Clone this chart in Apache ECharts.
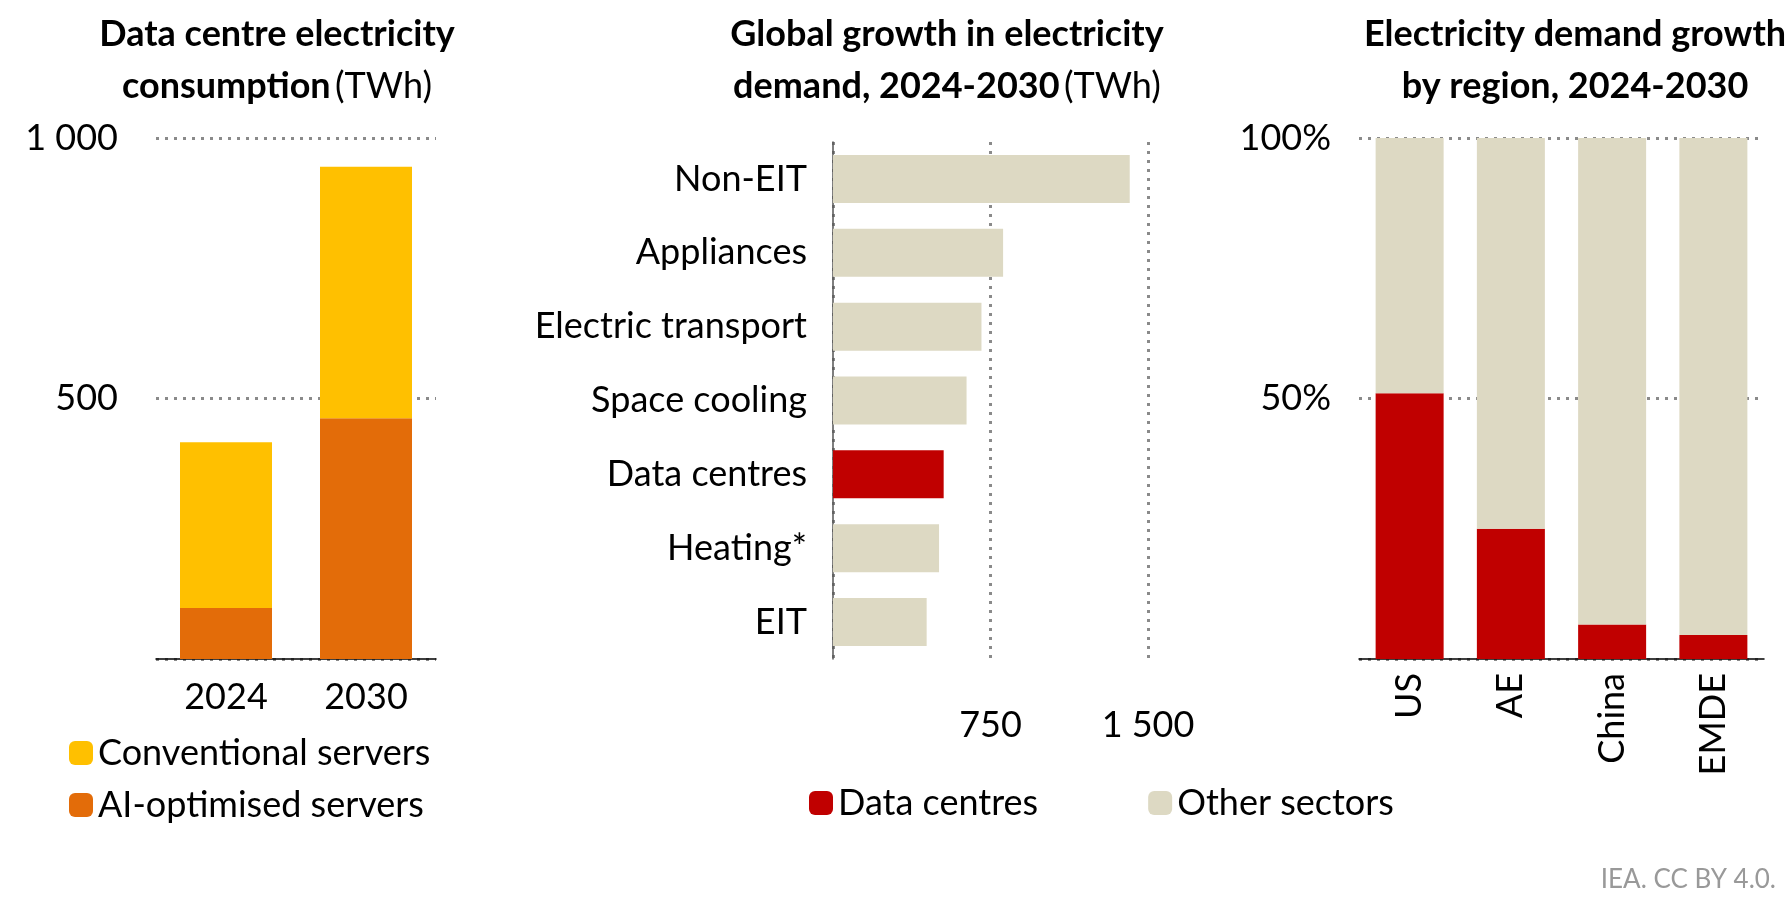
<!DOCTYPE html>
<html>
<head>
<meta charset="utf-8">
<script src="https://cdn.jsdelivr.net/npm/echarts@6/dist/echarts.min.js"></script>
<style>html,body{margin:0;padding:0;background:#fff}#main{width:1791px;height:910px}</style>
</head>
<body>
<div id="main"></div>
<script>
// left panel: data centre consumption (TWh)
var years = ['2024', '2030'];
var aiServers = [98, 462];
var convServers = [318, 483];
// middle panel: growth 2024-2030 (TWh)
var sectors = ['EIT', 'Heating*', 'Data centres', 'Space cooling', 'Electric transport', 'Appliances', 'Non-EIT'];
var sectorGrowth = [446, 505, 527, 636, 707, 810, 1413];
// right panel: share of demand growth (%)
var regions = ['US', 'AE', 'China', 'EMDE'];
var dcShare = [51, 25, 6.6, 4.6];

var FONT = 'Lato';
var FS = 36;
var RED = '#c00000', BEIGE = '#ddd9c3', ORANGE = '#e36c09', YELLOW = '#ffc000';
function fmt(v){ return String(v).replace(/\B(?=(\d{3})+(?!\d))/g, ' '); }
var dotted = {show: true, lineStyle: {color: '#8a8a8a', type: [3, 6], width: 3}};
var rich = {
    b: {fontFamily: FONT, fontWeight: 'bold', fontSize: 36, color: '#000', lineHeight: 52},
    n: {fontFamily: FONT, fontWeight: 'normal', fontSize: 36, color: '#000', lineHeight: 52}
};

var chart = echarts.init(document.getElementById('main'));
chart.setOption({
    textStyle: {fontFamily: FONT},
    title: [
        {text: '{b|Data centre electricity}\n{b|consumption} {n|(TWh)}', left: 272, top: 3, textAlign: 'center', textStyle: {rich: rich}},
        {text: '{b|Global growth in electricity}\n{b|demand, 2024-2030} {n|(TWh)}', left: 942, top: 3, textAlign: 'center', textStyle: {rich: rich}},
        {text: '{b|Electricity demand growth}\n{b|by region, 2024-2030}', left: 1570, top: 3, textAlign: 'center', textStyle: {rich: rich}},
        {text: 'IEA. CC BY 4.0.', right: 10, top: 862, textStyle: {fontFamily: FONT, fontSize: 26, color: '#999', fontWeight: 'normal'}}
    ],
    legend: [
        {data: ['Conventional servers', 'AI-optimised servers'], orient: 'vertical', left: 64, top: 730, itemWidth: 24, itemHeight: 24, itemGap: 16,
         textStyle: {fontFamily: FONT, fontSize: FS, color: '#000'}},
        {data: ['Data centres', 'Other sectors'], left: 804, top: 780, itemWidth: 24, itemHeight: 24, itemGap: 110,
         textStyle: {fontFamily: FONT, fontSize: FS, color: '#000'}}
    ],
    grid: [
        {left: 156, width: 280, top: 138, height: 521},
        {left: 833, width: 315, top: 142, height: 517},
        {left: 1359, width: 405, top: 138, height: 521}
    ],
    xAxis: [
        {gridIndex: 0, type: 'category', data: years, axisTick: {show: false},
         axisLine: {lineStyle: {color: '#000', width: 1.5}}, axisLabel: {fontSize: FS, color: '#000', margin: 20, fontFamily: FONT}},
        {gridIndex: 1, type: 'value', min: 0, max: 1500, interval: 750, splitLine: dotted,
         axisLabel: {fontSize: FS, color: '#000', margin: 48, fontFamily: FONT, formatter: function(v){ return v === 0 ? '' : fmt(v); }}},
        {gridIndex: 2, type: 'category', data: regions, axisTick: {show: false},
         axisLine: {lineStyle: {color: '#000', width: 1.5}}, axisLabel: {fontSize: FS, color: '#000', rotate: 90, margin: 14, fontFamily: FONT}}
    ],
    yAxis: [
        {gridIndex: 0, type: 'value', min: 0, max: 1000, interval: 500, splitLine: dotted, axisLine: {show: false},
         axisLabel: {fontSize: FS, color: '#000', margin: 38, fontFamily: FONT, formatter: function(v){ return v === 0 ? '' : fmt(v); }}},
        {gridIndex: 1, type: 'category', data: sectors, axisTick: {show: false},
         axisLine: {show: true, lineStyle: {color: '#555', width: 1.5}}, axisLabel: {fontSize: FS, color: '#000', margin: 26, fontFamily: FONT}},
        {gridIndex: 2, type: 'value', min: 0, max: 100, interval: 50, splitLine: dotted, axisLine: {show: false},
         axisLabel: {fontSize: FS, color: '#000', margin: 28, fontFamily: FONT, formatter: function(v){ return v === 0 ? '' : v + '%'; }}}
    ],
    series: [
        {name: 'AI-optimised servers', type: 'bar', stack: 'dc', xAxisIndex: 0, yAxisIndex: 0, data: aiServers, barWidth: 92, itemStyle: {color: ORANGE}},
        {name: 'Conventional servers', type: 'bar', stack: 'dc', xAxisIndex: 0, yAxisIndex: 0, data: convServers, barWidth: 92, itemStyle: {color: YELLOW}},
        {name: 'Other sectors', type: 'bar', xAxisIndex: 1, yAxisIndex: 1, barWidth: 48,
         data: sectorGrowth.map(function(v, i){ return {value: v, itemStyle: {color: sectors[i] === 'Data centres' ? RED : BEIGE}}; }),
         itemStyle: {color: BEIGE}},
        {name: 'Data centres', type: 'bar', stack: 'r', xAxisIndex: 2, yAxisIndex: 2, data: dcShare, barWidth: 68, itemStyle: {color: RED}},
        {name: 'Other', type: 'bar', stack: 'r', xAxisIndex: 2, yAxisIndex: 2, barWidth: 68, itemStyle: {color: BEIGE},
         data: dcShare.map(function(v){ return 100 - v; })}
    ]
});
</script>
</body>
</html>
